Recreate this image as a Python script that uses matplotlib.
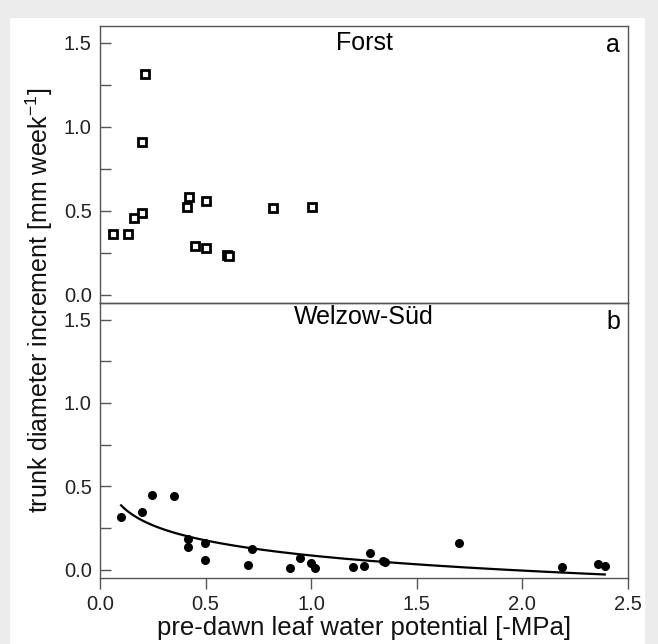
import numpy as np
import matplotlib
matplotlib.use('Agg')
import matplotlib.pyplot as plt
from matplotlib.patches import Rectangle

plt.rcParams['font.family'] = ['Liberation Sans', 'DejaVu Sans']
plt.rcParams['mathtext.default'] = 'regular'

# Forst (panel a)
forst_x = [0.060, 0.133, 0.159, 0.200, 0.213, 0.200, 0.410, 0.420, 0.500,
           0.451, 0.500, 0.600, 0.612, 0.819, 1.002]
forst_y = [0.363, 0.359, 0.458, 0.488, 1.317, 0.909, 0.520, 0.581, 0.558,
           0.288, 0.280, 0.236, 0.230, 0.514, 0.520]

# Welzow-Sued (panel b)
welzow_x = [0.099, 0.197, 0.248, 0.350, 0.418, 0.417, 0.499, 0.499, 0.718,
            0.701, 0.900, 0.949, 0.997, 1.020, 1.200, 1.250, 1.278, 1.340,
            1.350, 1.698, 2.189, 2.358, 2.393]
welzow_y = [0.318, 0.345, 0.447, 0.441, 0.186, 0.137, 0.163, 0.059, 0.122,
            0.031, 0.010, 0.073, 0.039, 0.010, 0.016, 0.024, 0.100, 0.052,
            0.047, 0.159, 0.018, 0.035, 0.025]

# log fit y = a + b*ln(x), coefficients
fit_a = 0.085
fit_b = -0.1307
fit_range = (0.1, 2.39)

fig = plt.figure(figsize=(6.58, 6.44), dpi=100, facecolor='#ececec')
fig.patches.append(Rectangle((10/658, 0), 635/658, 1 - 18/644,
                             transform=fig.transFigure, facecolor='white',
                             edgecolor='none', zorder=-1))

left, right = 100/658, 628/658
top_a, mid, bot_b = 1 - 26/644, 1 - 303/644, 1 - 578/644
ax1 = fig.add_axes([left, mid, right - left, top_a - mid])
ax2 = fig.add_axes([left, bot_b, right - left, mid - bot_b])

spine_col = '#555555'
for ax in (ax1, ax2):
    ax.set_xlim(0, 2.5)
    ax.set_ylim(-0.05, 1.6)
    ax.set_yticks([0.0, 0.5, 1.0, 1.5])
    ax.set_yticklabels(['0.0', '0.5', '1.0', '1.5'])
    ax.set_yticks([0.25, 0.75, 1.25], minor=True)
    ax.set_xticks([0.0, 0.5, 1.0, 1.5, 2.0, 2.5])
    ax.tick_params(axis='y', which='both', direction='in', length=8,
                   width=1, color=spine_col, labelsize=14.5, pad=6,
                   labelcolor='#222222')
    ax.tick_params(axis='x', direction='out', length=8, width=1,
                   color=spine_col, labelsize=14.5, pad=4,
                   labelcolor='#222222')
    for s in ax.spines.values():
        s.set_color(spine_col)
        s.set_linewidth(1)
    ax.set_facecolor('none')

ax1.tick_params(axis='x', bottom=False, labelbottom=False)

ax1.plot(forst_x, forst_y, 's', ms=5.2, mew=2.0, mfc='white', mec='black')
ax1.text(0.5, 0.94, 'Forst', transform=ax1.transAxes, ha='center',
         va='center', fontsize=18)
ax1.text(0.985, 0.93, 'a', transform=ax1.transAxes, ha='right',
         va='center', fontsize=18)

ax2.plot(welzow_x, welzow_y, 'o', ms=5.5, color='black')
xf = np.linspace(fit_range[0], fit_range[1], 200)
ax2.plot(xf, fit_a + fit_b * np.log(xf), color='black', lw=1.6)
ax2.text(0.5, 0.95, 'Welzow-Süd', transform=ax2.transAxes, ha='center',
         va='center', fontsize=18)
ax2.text(0.985, 0.93, 'b', transform=ax2.transAxes, ha='right',
         va='center', fontsize=18)
ax2.set_xlabel('pre-dawn leaf water potential [-MPa]', fontsize=18.5,
               labelpad=2, color='#111111')

fig.text(39/658, 1 - 300/644, 'trunk diameter increment [mm week$^{-1}$]',
         rotation=90, ha='center', va='center', fontsize=18,
         color='#111111')

fig.savefig('out.png', dpi=100, facecolor=fig.get_facecolor())
